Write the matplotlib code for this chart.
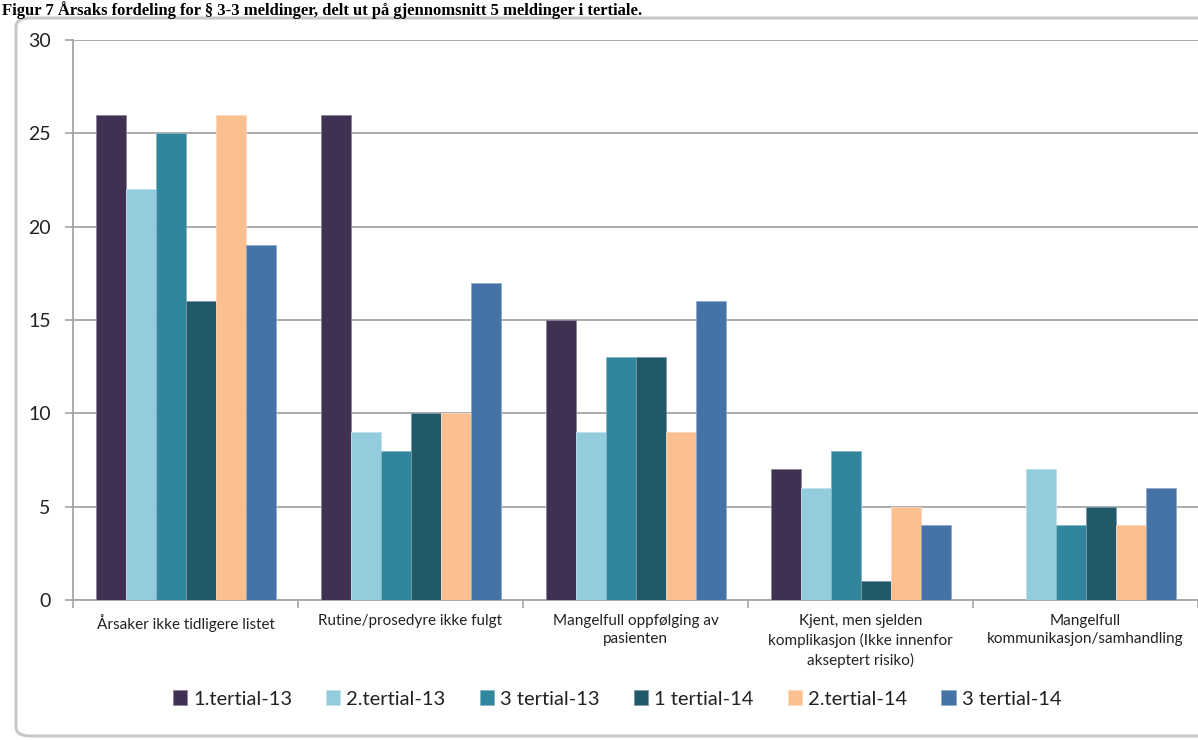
import numpy as np
import matplotlib
matplotlib.use("Agg")
import matplotlib.pyplot as plt
from matplotlib.patches import FancyBboxPatch
from matplotlib.colors import to_rgb

categories = [
    "Årsaker ikke tidligere listet",
    "Rutine/prosedyre ikke fulgt",
    "Mangelfull oppfølging av\npasienten",
    "Kjent, men sjelden\nkomplikasjon (Ikke innenfor\nakseptert risiko)",
    "Mangelfull\nkommunikasjon/samhandling",
]
series_names = ["1.tertial-13", "2.tertial-13", "3 tertial-13",
                "1 tertial-14", "2.tertial-14", "3 tertial-14"]
t1_13 = [26, 26, 15, 7, 0]
t2_13 = [22, 9, 9, 6, 7]
t3_13 = [25, 8, 13, 8, 4]
t1_14 = [16, 10, 13, 1, 5]
t2_14 = [26, 10, 9, 5, 4]
t3_14 = [19, 17, 16, 4, 6]
series_values = [t1_13, t2_13, t3_13, t1_14, t2_14, t3_14]
colors = ["#403152", "#93CDDD", "#31859C", "#215968", "#FAC090", "#4572A7"]
y_ticks = [0, 5, 10, 15, 20, 25, 30]

title_text = ("Figur 7 Årsaks fordeling for § 3-3 meldinger, delt ut på "
              "gjennomsnitt 5 meldinger i tertiale.")

W, H = 1198, 740
fig = plt.figure(figsize=(W / 100, H / 100), dpi=100)
fig.patch.set_facecolor("white")

# caption line above the chart frame
fig.text(2 / W, 1 - 1 / H, title_text, family="Liberation Serif",
         fontweight="bold", fontsize=12, ha="left", va="top",
         color="black")

# chart frame with rounded corners
frame = FancyBboxPatch((16 / W, 4 / H), 1.2, 1 - 22 / H,
                       boxstyle="round,pad=0,rounding_size=0.012",
                       transform=fig.transFigure, facecolor="white",
                       edgecolor="#C8C8C8", linewidth=2.2, zorder=-5)
fig.patches.append(frame)

ax = fig.add_axes([73 / W, 1 - 600 / H, 1 - 73 / W, (600 - 40) / H])
ax.set_facecolor("none")
ax.set_zorder(2)

n = len(series_values)
bar_w = 0.8 / n
x = np.arange(len(categories))
for i, (name, vals, col) in enumerate(zip(series_names, series_values, colors)):
    edge = tuple(0.6 * c + 0.4 for c in to_rgb(col))
    ax.bar(x - 0.4 + bar_w * (i + 0.5), vals, width=bar_w, color=col,
           edgecolor=edge, linewidth=0.6, label=name, zorder=3)

ax.set_xlim(-0.5, len(categories) - 0.5)
ax.set_ylim(0, 30)
ax.set_yticks(y_ticks)
ax.yaxis.grid(True, color="#A6A6A6", linewidth=1.3, zorder=0)
ax.set_axisbelow(True)

ax.set_xticks(x)
ax.set_xticklabels(categories, family="Lato", fontsize=11, color="#222222",
                   linespacing=1.4)
ax.tick_params(axis="x", which="major", length=0, pad=10)
ax.set_xticks(np.arange(-0.5, len(categories), 1.0), minor=True)
ax.tick_params(axis="x", which="minor", length=6, width=1.2, color="#A6A6A6",
               direction="out")
ax.tick_params(axis="y", length=6, width=1.2, color="#A6A6A6", pad=10,
               labelsize=14, labelcolor="#222222")
for lab in ax.get_yticklabels():
    lab.set_family("Lato")

for side in ("top", "right"):
    ax.spines[side].set_visible(False)
for side in ("left", "bottom"):
    ax.spines[side].set_color("#A6A6A6")
    ax.spines[side].set_linewidth(1.3)

leg = fig.legend(loc="center", bbox_to_anchor=(617 / W, 1 - 699 / H),
                 ncol=n, frameon=False, prop={"family": "Lato", "size": 14.5},
                 handlelength=0.7, handleheight=0.7, handletextpad=0.3,
                 columnspacing=1.7)
for t in leg.get_texts():
    t.set_color("#222222")

fig.savefig("out.png", dpi=100)
